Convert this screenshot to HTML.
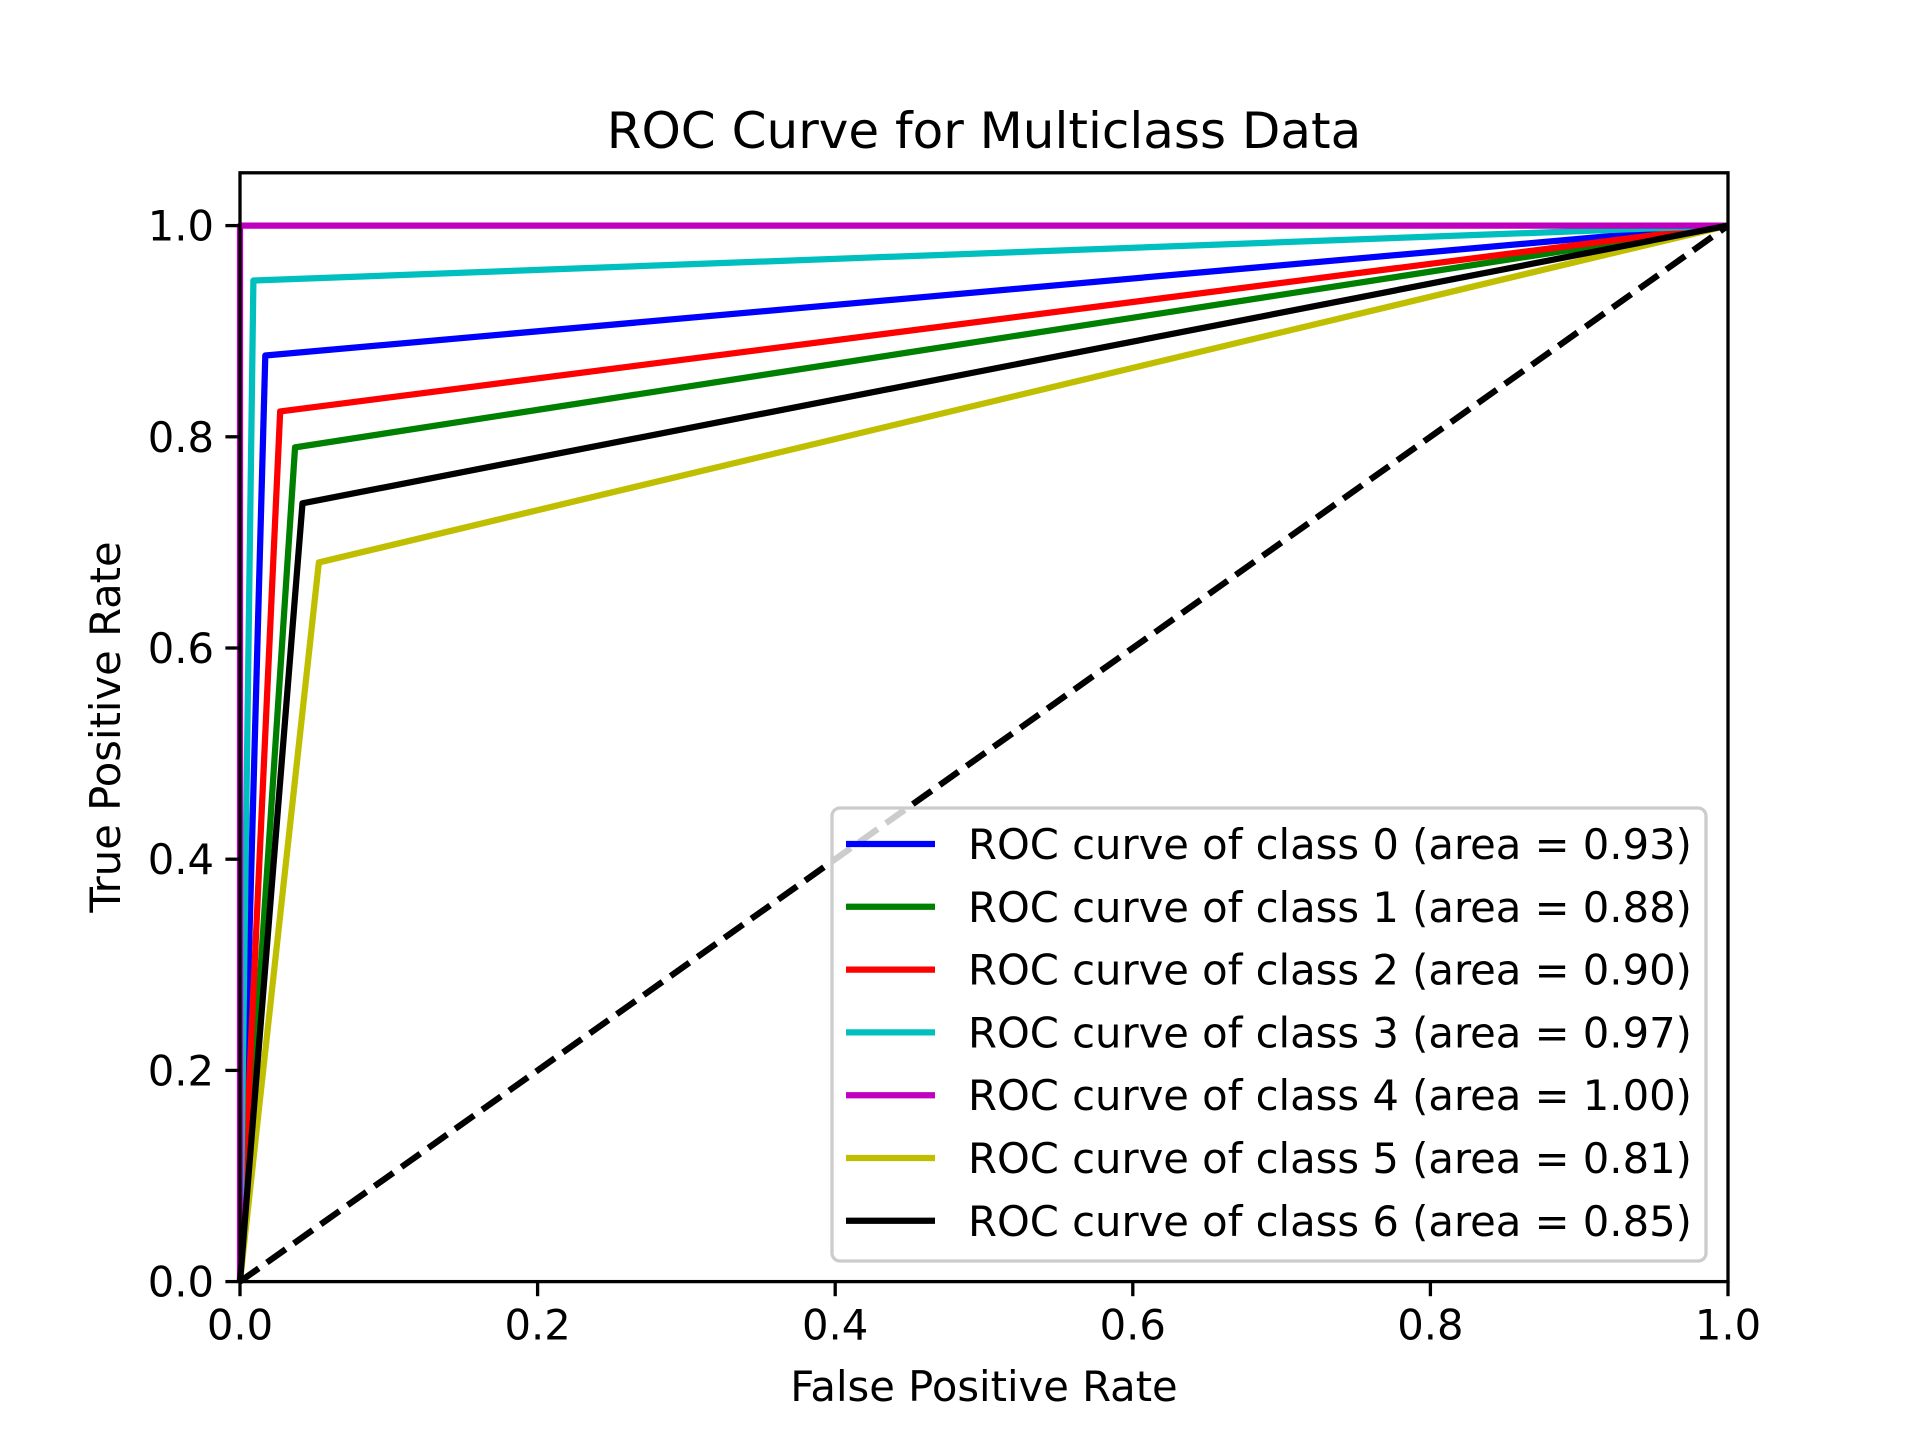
<!DOCTYPE html>
<html><head><meta charset="utf-8"><style>
body{margin:0;background:#fff;}
svg text{font-family:"DejaVu Sans","Liberation Sans",sans-serif;fill:#000;}
</style></head><body>
<svg id="chart" width="1920" height="1440" viewBox="0 0 1920 1440" xmlns="http://www.w3.org/2000/svg">
<rect width="1920" height="1440" fill="#fff"/>
<text x="984" y="148" font-size="50" text-anchor="middle">ROC Curve for Multiclass Data</text>
<g id="plot"></g>
<g id="axes"></g>
<g id="legend"></g>
<text x="984" y="1401" font-size="41.7" text-anchor="middle">False Positive Rate</text>
<text transform="translate(120,727) rotate(-90)" font-size="41.7" text-anchor="middle">True Positive Rate</text>
</svg>
<script>
const classNames = ["0","1","2","3","4","5","6"];
const colors = ["#0000ff","#008000","#ff0000","#00bfbf","#bf00bf","#bfbf00","#000000"];
const fprCorner = [0.017,0.037,0.027,0.009,0.0,0.053,0.042];
const tprCorner = [0.877,0.790,0.824,0.948,1.0,0.681,0.737];
const areas = ["0.93","0.88","0.90","0.97","1.00","0.81","0.85"];
const xTicks = [0,0.2,0.4,0.6,0.8,1.0];
const yTicks = [0,0.2,0.4,0.6,0.8,1.0];
const xTickLabels = ["0.0","0.2","0.4","0.6","0.8","1.0"];
const yTickLabels = ["0.0","0.2","0.4","0.6","0.8","1.0"];

const L=240,R=1728,T=172.8,B=1281.6;
const sx=v=>L+(R-L)*v;
const sy=v=>B-(B-T)*v/1.05;
const NS="http://www.w3.org/2000/svg";
function mk(tag,attrs,parent){const e=document.createElementNS(NS,tag);for(const k in attrs)e.setAttribute(k,attrs[k]);parent.appendChild(e);return e;}
const plot=document.getElementById('plot'),axes=document.getElementById('axes'),leg=document.getElementById('legend');

classNames.forEach((c,i)=>{
  const pts=[[0,0],[fprCorner[i],tprCorner[i]],[1,1]].map(p=>sx(p[0])+','+sy(p[1])).join(' ');
  const pl=mk('polyline',{points:pts,fill:'none',stroke:colors[i],'stroke-width':6.25,'stroke-linejoin':'round'},plot);
  
  
});
const dg=mk('line',{x1:sx(0),y1:sy(0),x2:sx(1),y2:sy(1),stroke:'#000','stroke-width':6.25,'stroke-dasharray':'23 10'},plot);



const fr=mk('rect',{x:L,y:T,width:R-L,height:B-T,fill:'none',stroke:'#000','stroke-width':3.3},axes);


xTicks.forEach((v,i)=>{
  mk('line',{x1:sx(v),y1:B,x2:sx(v),y2:B+14.6,stroke:'#000','stroke-width':3.3},axes);
  const t=mk('text',{x:sx(v),y:B+58,'font-size':41.7,'text-anchor':'middle'},axes);
  t.textContent=xTickLabels[i];
  
  
});
yTicks.forEach((v,i)=>{
  mk('line',{x1:L,y1:sy(v),x2:L-14.6,y2:sy(v),stroke:'#000','stroke-width':3.3},axes);
  const t=mk('text',{x:L-26,y:sy(v)+15,'font-size':41.7,'text-anchor':'end'},axes);
  t.textContent=yTickLabels[i];
  
  
});

const lb=mk('rect',{x:832,y:808,width:874,height:453,rx:8,fill:'#fff','fill-opacity':0.8,stroke:'#ccc','stroke-width':3.3},leg);


classNames.forEach((c,i)=>{
  const y=844+i*62.8;
  const g=mk('g',{},leg);
  
  
  mk('line',{x1:846,y1:y,x2:935,y2:y,stroke:colors[i],'stroke-width':6.25},g);
  const t=mk('text',{x:968,y:y+15,'font-size':41.7},g);
  t.textContent='ROC curve of class '+c+' (area = '+areas[i]+')';
});
</script>
</body></html>
